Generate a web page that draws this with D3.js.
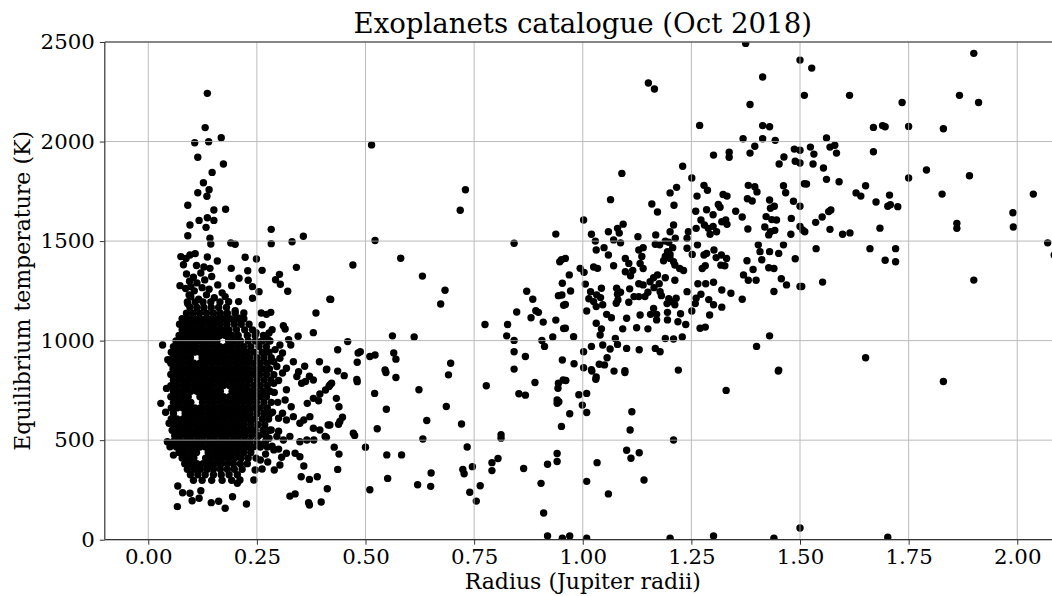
<!DOCTYPE html>
<html>
<head>
<meta charset="utf-8">
<script src="https://cdn.jsdelivr.net/npm/d3@7"></script>
<style>
  body { margin: 0; background: #fff; }
  svg text { font-family: "DejaVu Serif", serif; fill: #000; }
</style>
</head>
<body>
<svg id="chart" width="1052" height="596"></svg>
<script>
// Axis ticks
const xTicks = [0, 0.25, 0.5, 0.75, 1.0, 1.25, 1.5, 1.75, 2.0];
const yTicks = [0, 500, 1000, 1500, 2000, 2500];

// Dense small-planet cluster, listed as rows: [temperature, [radii...]]
const coreRows = [
  [1194, [0.090, 0.108, 0.126, 0.144, 0.165]],
  [1166, [0.096, 0.112, 0.128, 0.145, 0.162, 0.180]],
  [1138, [0.088, 0.103, 0.118, 0.134, 0.150, 0.166, 0.182, 0.200]],
  [1110, [0.078, 0.092, 0.106, 0.119, 0.133, 0.146, 0.160, 0.174, 0.188, 0.203, 0.220]],
  [1082, [0.072, 0.085, 0.098, 0.112, 0.125, 0.139, 0.152, 0.166, 0.181, 0.198, 0.214, 0.232]],
  [1054, [0.078, 0.091, 0.105, 0.118, 0.131, 0.145, 0.158, 0.172, 0.186, 0.203, 0.222, 0.240]],
  [1026, [0.071, 0.084, 0.098, 0.111, 0.124, 0.138, 0.151, 0.165, 0.178, 0.192, 0.207, 0.228, 0.246, 0.265]],
  [998, [0.064, 0.077, 0.091, 0.104, 0.117, 0.131, 0.144, 0.158, 0.185, 0.198, 0.212, 0.230, 0.247, 0.262, 0.280]],
  [970, [0.058, 0.071, 0.085, 0.098, 0.111, 0.125, 0.138, 0.152, 0.165, 0.179, 0.192, 0.206, 0.220, 0.236, 0.255, 0.272]],
  [942, [0.053, 0.066, 0.079, 0.093, 0.106, 0.119, 0.133, 0.146, 0.160, 0.173, 0.187, 0.200, 0.214, 0.228, 0.243, 0.262, 0.278]],
  [914, [0.057, 0.070, 0.084, 0.097, 0.124, 0.138, 0.151, 0.165, 0.178, 0.192, 0.205, 0.219, 0.233, 0.250, 0.266, 0.283]],
  [886, [0.052, 0.065, 0.078, 0.092, 0.105, 0.119, 0.132, 0.146, 0.159, 0.173, 0.186, 0.200, 0.213, 0.227, 0.242, 0.258, 0.274]],
  [858, [0.057, 0.070, 0.084, 0.097, 0.111, 0.124, 0.138, 0.151, 0.165, 0.178, 0.192, 0.205, 0.219, 0.233, 0.249, 0.264, 0.279]],
  [830, [0.052, 0.065, 0.078, 0.092, 0.105, 0.119, 0.132, 0.146, 0.159, 0.173, 0.186, 0.200, 0.213, 0.227, 0.241, 0.256, 0.272]],
  [802, [0.058, 0.071, 0.085, 0.098, 0.112, 0.125, 0.139, 0.152, 0.166, 0.179, 0.193, 0.206, 0.220, 0.234, 0.250, 0.266, 0.282]],
  [774, [0.052, 0.065, 0.079, 0.092, 0.106, 0.119, 0.133, 0.146, 0.160, 0.173, 0.187, 0.200, 0.214, 0.228, 0.243, 0.258, 0.274]],
  [746, [0.058, 0.071, 0.085, 0.098, 0.112, 0.125, 0.139, 0.152, 0.166, 0.193, 0.206, 0.220, 0.234, 0.249, 0.265, 0.280]],
  [718, [0.052, 0.065, 0.079, 0.092, 0.119, 0.133, 0.146, 0.160, 0.173, 0.187, 0.200, 0.214, 0.228, 0.242, 0.257, 0.272]],
  [690, [0.058, 0.071, 0.085, 0.098, 0.125, 0.139, 0.152, 0.166, 0.179, 0.193, 0.206, 0.220, 0.234, 0.249, 0.266, 0.283]],
  [662, [0.053, 0.066, 0.080, 0.093, 0.107, 0.120, 0.134, 0.147, 0.161, 0.174, 0.188, 0.201, 0.215, 0.229, 0.244, 0.258, 0.274]],
  [634, [0.058, 0.085, 0.098, 0.112, 0.125, 0.139, 0.152, 0.166, 0.179, 0.193, 0.206, 0.220, 0.234, 0.250, 0.266, 0.281]],
  [606, [0.053, 0.066, 0.080, 0.093, 0.107, 0.120, 0.134, 0.147, 0.161, 0.174, 0.188, 0.201, 0.215, 0.229, 0.244, 0.262, 0.277]],
  [578, [0.059, 0.072, 0.086, 0.099, 0.113, 0.126, 0.140, 0.153, 0.167, 0.180, 0.194, 0.207, 0.221, 0.236, 0.252, 0.268]],
  [550, [0.055, 0.068, 0.082, 0.095, 0.109, 0.122, 0.136, 0.149, 0.163, 0.176, 0.190, 0.203, 0.217, 0.231, 0.246, 0.264, 0.279]],
  [522, [0.061, 0.074, 0.088, 0.101, 0.115, 0.128, 0.142, 0.155, 0.169, 0.182, 0.196, 0.209, 0.223, 0.238, 0.254, 0.270]],
  [494, [0.058, 0.071, 0.085, 0.098, 0.112, 0.125, 0.139, 0.152, 0.166, 0.179, 0.193, 0.206, 0.220, 0.234, 0.250, 0.270]],
  [466, [0.065, 0.078, 0.092, 0.105, 0.119, 0.132, 0.146, 0.159, 0.173, 0.186, 0.200, 0.213, 0.227, 0.242, 0.258, 0.274]],
  [438, [0.071, 0.084, 0.098, 0.111, 0.138, 0.152, 0.165, 0.179, 0.192, 0.206, 0.220, 0.236]],
  [410, [0.078, 0.091, 0.105, 0.132, 0.145, 0.159, 0.172, 0.186, 0.199, 0.214, 0.230, 0.248]],
  [382, [0.084, 0.098, 0.112, 0.126, 0.140, 0.154, 0.168, 0.182, 0.196, 0.212, 0.228]],
  [354, [0.090, 0.105, 0.120, 0.136, 0.150, 0.166, 0.182, 0.198, 0.216]],
  [326, [0.097, 0.114, 0.131, 0.150, 0.168, 0.186, 0.205]],
  [298, [0.104, 0.124, 0.146, 0.170, 0.192]]
];

// Scattered small planets: [radius (R_J), equilibrium temperature (K)]
const smallPlanets = [
  [0.136,2242],[0.131,2070],[0.107,1994],[0.139,1999],[0.168,2019],[0.114,1921],[0.173,1887],[0.147,1845],
  [0.127,1793],[0.140,1758],[0.114,1743],[0.135,1725],[0.091,1680],[0.151,1656],[0.178,1660],
  [0.117,1604],[0.136,1617],[0.151,1604],[0.096,1581],[0.133,1569],[0.091,1527],[0.142,1514],[0.144,1485],
  [0.190,1490],[0.200,1484],[0.283,1559],[0.283,1487],[0.331,1497],[0.357,1524],[0.075,1422],[0.087,1413],
  [0.108,1437],[0.096,1430],[0.136,1420],[0.159,1400],[0.223,1419],[0.249,1410],[0.191,1363],[0.262,1353],
  [0.341,1368],[0.229,1351],[0.302,1333],[0.293,1306],[0.304,1283],[0.321,1248],[0.209,1313],[0.230,1303],
  [0.240,1271],[0.073,1276],[0.098,1271],[0.192,1276],[0.255,1246],[0.240,1213],[0.418,1208],[0.208,1196],
  [0.094,1229],[0.091,1185],[0.177,1221],[0.260,1139],[0.282,1142],[0.272,1132],[0.386,1139],[0.380,1040],
  [0.220,1139],[0.211,1112],[0.345,1022],[0.311,1075],[0.315,1058],[0.285,1055],[0.278,1038],[0.323,1005],
  [0.328,978],[0.303,978],[0.309,938],[0.303,911],[0.394,894],[0.360,871],[0.371,821],[0.410,854],
  [0.346,844],[0.318,861],[0.289,894],[0.272,944],[0.334,894],[0.033,978],[0.045,904],
  [0.081,1381],[0.111,1377],[0.128,1370],[0.142,1363],
  [0.088,1335],[0.104,1318],[0.121,1340],[0.095,1298],[0.112,1290],[0.130,1305],[0.146,1322],[0.086,1262],
  [0.106,1250],[0.124,1266],[0.140,1258],[0.160,1280],[0.098,1220],[0.116,1208],[0.134,1230],[0.152,1215],
  [0.170,1240],[0.185,1195],[0.200,1150],
  [0.262,1080],[0.248,1040],[0.275,1005],[0.292,955],[0.296,870],[0.300,800],[0.290,740],[0.298,690],
  [0.286,640],[0.300,610],[0.300,545],[0.278,510],[0.264,480],[0.285,470],[0.270,430],[0.300,455],
  [0.258,400],[0.275,390],[0.262,355],[0.290,350],
  [0.471,1380],[0.420,1207],[0.459,995],[0.436,954],[0.483,938],[0.488,944],[0.481,891],[0.411,857],
  [0.436,847],[0.451,824],[0.480,805],[0.422,786],[0.416,770],[0.481,794],[0.433,710],[0.439,668],
  [0.447,615],[0.441,594],[0.438,580],[0.414,576],[0.410,514],[0.472,535],[0.475,524],[0.428,465],
  [0.439,430],[0.436,353],[0.412,256],
  [0.029,685],[0.068,270],[0.079,236],[0.096,233],[0.101,196],[0.121,246],[0.117,208],[0.067,166],
  [0.145,186],[0.162,193],[0.177,158],[0.194,216],[0.226,179],[0.205,283],[0.211,300],[0.243,300],
  [0.246,350],[0.326,219],[0.338,230],[0.352,316],[0.371,303],[0.389,316],[0.369,186],[0.371,174],
  [0.398,189],[0.303,375],[0.307,414],[0.338,434],[0.349,417],[0.358,370],
  [0.289,829],[0.309,837],[0.342,820],[0.353,786],[0.362,795],[0.380,802],[0.418,777],[0.318,753],
  [0.289,786],[0.315,702],[0.329,668],[0.366,685],[0.380,710],[0.392,698],[0.395,732],[0.408,752],
  [0.309,635],[0.318,601],[0.334,618],[0.349,585],[0.358,601],[0.372,618],[0.380,560],[0.395,551],
  [0.407,519],[0.418,576],[0.283,551],[0.296,519],[0.311,501],[0.326,519],[0.349,492],[0.365,501],
  [0.381,501],[0.289,451],[0.318,434],[0.048,585],[0.044,492],[0.050,467],[0.058,425],[0.042,760],[0.040,640]
];

// Gas giants and larger planets: [radius (R_J), equilibrium temperature (K)]
const giantPlanets = [
  [0.514,1983],[0.730,1758],[0.718,1655],[0.522,1503],[0.581,1414],[0.631,1324],[0.683,1253],[0.673,1184],
  [0.775,1081],[0.842,1489],[0.938,1535],[0.951,1406],[0.953,1288],[0.944,1226],[0.956,1178],[0.871,1248],
  [0.885,1208],[0.848,1144],[0.892,1150],[0.898,1142],[0.881,1115],[0.909,1093],[0.938,1103],[0.956,1061],
  [0.827,1081],[0.825,1024],[0.842,1001],[0.906,1001],[0.912,971],[0.931,1018],[0.842,944],[0.868,920],
  [0.842,857],[0.953,903],[0.562,1024],[0.612,1018],[0.510,920],[0.522,928],[0.565,938],[0.570,907],
  [0.545,853],[0.547,840],[0.696,886],[0.691,828],[0.570,815],
  [0.623,753],[0.521,735],[0.778,773],[0.890,790],[0.853,733],[0.868,726],[0.944,786],[0.943,761],
  [0.941,702],[0.941,685],[0.951,569],[0.955,802],[0.548,655],[0.527,557],[0.686,669],[0.641,599],
  [0.632,506],[0.721,581],[0.812,527],[0.812,510],[0.500,465],[0.549,426],[0.583,426],[0.510,251],
  [0.551,308],[0.620,276],[0.651,335],[0.650,268],[0.734,466],[0.724,353],[0.727,331],[0.746,367],
  [0.740,238],[0.764,271],[0.755,194],[0.791,387],[0.805,408],[0.791,347],[0.864,358],[0.904,283],
  [0.919,379],[0.941,433],[0.941,393],[0.910,134],[0.919,19],[0.953,7],
  [0.961,800],[0.991,728],[1.009,735],[0.999,676],[1.009,639],[0.970,633],[0.945,693],[1.030,806],
  [1.021,847],[1.072,847],[1.097,840],[1.220,852],[1.450,847],[1.330,750],[1.113,643],[1.109,551],
  [1.209,501],[1.101,449],[1.111,409],[1.130,437],[1.033,387],[1.009,293],[1.141,300],[1.059,230],
  [0.970,19],[1.009,7],[1.201,7],[1.301,19],[1.440,7],[1.500,59],[1.830,795],[1.702,12],
  [1.151,2294],[1.165,2264],[1.375,2493],[1.500,2409],[1.414,2324],[1.385,2186],[1.510,2232],[1.269,2081],
  [1.414,2080],[1.430,2074],[1.369,2014],[1.414,2014],[1.443,2006],[1.396,1976],[1.385,1942],[1.487,1962],
  [1.500,1956],[1.463,1922],[1.452,1887],[1.489,1901],[1.500,1892],[1.510,1788],[1.301,1932],[1.337,1946],
  [1.337,1921],[1.230,1876],[1.251,1817],[1.279,1780],[1.287,1755],[1.263,1726],[1.323,1734],[1.332,1726],
  [1.381,1780],[1.396,1773],[1.401,1747],[1.379,1713],[1.390,1701],[1.430,1706],[1.441,1675],[1.462,1778],
  [1.467,1743],[1.485,1700],[1.500,1675],[1.090,1840],[1.064,1708],[1.216,1770],[1.201,1742],[1.159,1686],
  [1.172,1646],[1.210,1680],[1.260,1650],[1.285,1657],[1.312,1684],[1.316,1670],[1.352,1650],
  [1.300,1632],[1.367,1621],[1.332,1584],[1.272,1606],[1.280,1581],[1.289,1564],[1.300,1574],[1.308,1547],
  [1.293,1534],[1.320,1597],[1.329,1606],[1.261,1564],[1.243,1547],[1.240,1514],[1.432,1665],[1.422,1623],
  [1.435,1608],[1.446,1606],[1.480,1614],[1.419,1571],[1.432,1547],[1.442,1554],[1.428,1531],[1.380,1561],
  [1.479,1534],[1.500,1573],[1.506,1556],[1.209,1581],[1.201,1547],[1.213,1514],[1.168,1531],[1.167,1484],
  [1.177,1481],[1.190,1500],[1.198,1494],[1.207,1467],[1.201,1433],[1.127,1522],[1.093,1585],[1.080,1564],
  [1.084,1540],[1.059,1547],[1.071,1506],[1.087,1491],[1.020,1534],[1.029,1500],[1.049,1467],[1.031,1455],
  [1.059,1430],[1.002,1606],[1.139,1467],[1.129,1455],[1.240,1464],[1.252,1433],[1.264,1481],[1.285,1438],
  [1.302,1455],[1.307,1417],[1.319,1430],[1.331,1413],[1.327,1376],[1.318,1379],[1.378,1401],[1.392,1357],
  [1.370,1330],[1.381,1303],[1.399,1303],[1.404,1481],[1.408,1447],[1.430,1447],[1.412,1406],[1.451,1438],
  [1.462,1481],[1.428,1366],[1.440,1362],[1.489,1411],[1.457,1311],[1.469,1280],[1.440,1247],[1.500,1272],
  [1.367,1208],[1.430,1024],[1.400,971],[1.451,852],[1.279,1430],[1.275,1362],[1.282,1376],[1.265,1286],
  [1.283,1286],[1.301,1293],[1.320,1254],[1.341,1238],[1.290,1206],[1.301,1180],[1.320,1168],[1.272,1233],
  [1.261,1213],[1.259,1186],[1.251,1149],[1.292,1129],[1.270,1062],[1.282,1068],[1.240,1246],[1.223,1362],
  [1.232,1352],[1.212,1380],[1.209,1396],[1.201,1413],[1.190,1423],[1.195,1447],[1.186,1401],[1.212,1303],
  [1.190,1316],[1.172,1330],[1.163,1316],[1.178,1246],[1.181,1226],[1.198,1210],[1.194,1186],[1.212,1180],
  [1.203,1196],[1.215,1213],[1.163,1162],[1.170,1132],[1.156,1132],[1.195,1142],[1.195,1104],[1.225,1135],
  [1.219,1095],[1.237,1081],[1.190,1011],[1.209,1008],[1.229,1018],[1.098,1413],[1.106,1388],[1.098,1346],
  [1.110,1326],[1.115,1353],[1.136,1423],[1.132,1388],[1.139,1362],[1.129,1286],[1.139,1280],[1.155,1296],
  [1.164,1266],[1.176,1286],[1.118,1221],[1.129,1221],[1.143,1221],[1.150,1243],[1.106,1193],[1.132,1129],
  [1.087,1243],[1.080,1233],[1.081,1204],[1.077,1188],[1.108,1260],[1.101,1112],[1.092,1059],[1.124,1065],
  [1.150,1059],[1.075,1011],[1.080,981],[1.063,958],[1.101,961],[1.130,954],[1.167,961],[1.178,944],
  [1.056,914],[1.038,881],[1.050,878],[1.097,849],[1.046,978],[1.020,971],[1.002,944],[1.002,864],
  [0.980,884],[1.020,854],[1.031,817],[0.979,1020],[0.960,1062],[1.055,1132],[1.066,1115],[1.031,1087],
  [1.043,1059],[1.040,1028],[1.009,1149],[1.031,1171],[1.046,1180],[1.025,1196],[1.014,1210],[1.032,1230],
  [1.018,1246],[1.043,1263],[1.041,1216],[0.960,1182],[0.972,1249],[0.952,1229],[1.006,1284],[0.969,1330],
  [0.994,1363],[1.003,1343],[0.947,1396],[0.960,1413],[1.025,1370],[1.034,1363],[1.071,1376],[1.078,1263],
  [1.170,1104],
  [1.900,2443],[1.527,2369],[1.614,2232],[1.867,2232],[1.911,2196],[1.735,2196],[1.669,2071],[1.690,2080],
  [1.696,2074],[1.750,2076],[1.830,2064],[1.561,2018],[1.524,1972],[1.569,1972],[1.580,1981],[1.532,1937],
  [1.584,1942],[1.669,1949],[1.530,1887],[1.554,1867],[1.515,1787],[1.561,1810],[1.590,1798],[1.651,1778],
  [1.629,1742],[1.640,1726],[1.706,1731],[1.750,1817],[1.791,1857],[1.890,1828],[1.827,1736],[2.037,1736],
  [1.675,1696],[1.571,1656],[1.702,1675],[1.708,1683],[1.725,1673],[1.990,1642],[1.566,1648],[1.551,1621],
  [1.536,1594],[1.511,1547],[1.569,1559],[1.598,1534],[1.615,1541],[1.684,1565],[1.861,1589],[1.861,1564],
  [1.991,1571],[2.070,1491],[2.085,1430],[1.537,1462],[1.661,1462],[1.720,1462],[1.696,1404],[1.720,1396],
  [1.504,1272],[1.552,1294],[1.900,1304],[1.651,914]
];

const points = [];
coreRows.forEach(([t, radii]) => radii.forEach(r => points.push([r, t])));
smallPlanets.forEach(p => points.push(p));
giantPlanets.forEach(p => points.push(p));

const svg = d3.select("#chart");
const plot = { left: 104.8, right: 1060.7, top: 42, bottom: 539.7 };

const x = d3.scaleLinear().domain([-0.1, 2.1]).range([plot.left, plot.right]);
const y = d3.scaleLinear().domain([0, 2500]).range([plot.bottom, plot.top]);

svg.append("defs").append("clipPath").attr("id", "plot-clip")
  .append("rect")
  .attr("x", plot.left).attr("y", plot.top)
  .attr("width", plot.right - plot.left).attr("height", plot.bottom - plot.top);

// Scatter markers
svg.append("g").attr("clip-path", "url(#plot-clip)")
  .selectAll("circle").data(points).join("circle")
  .attr("cx", d => x(d[0]))
  .attr("cy", d => y(d[1]))
  .attr("r", 3.7)
  .attr("fill", "#000");

// Grid lines drawn above the markers
const grid = svg.append("g").attr("stroke", "#b0b0b0").attr("stroke-width", 1).attr("opacity", 0.85);
grid.selectAll(".gx").data(xTicks).join("line")
  .attr("x1", d => x(d)).attr("x2", d => x(d))
  .attr("y1", plot.top).attr("y2", plot.bottom);
grid.selectAll(".gy").data(yTicks).join("line")
  .attr("x1", plot.left).attr("x2", plot.right)
  .attr("y1", d => y(d)).attr("y2", d => y(d));

// Axes
const xAxis = d3.axisBottom(x).tickValues(xTicks).tickFormat(d3.format(".2f")).tickSizeOuter(0).tickSize(5).tickPadding(4);
const yAxis = d3.axisLeft(y).tickValues(yTicks).tickFormat(d3.format("d")).tickSizeOuter(0).tickSize(5).tickPadding(5);

const gx = svg.append("g").attr("transform", `translate(0,${plot.bottom})`).call(xAxis);
const gy = svg.append("g").attr("transform", `translate(${plot.left},0)`).call(yAxis);
[gx, gy].forEach(g => {
  g.select(".domain").remove();
  g.selectAll(".tick line").attr("stroke", "#333").attr("stroke-width", 1);
  g.selectAll(".tick text").attr("font-family", "DejaVu Serif").attr("font-size", 21.3).attr("fill", "#000");
});

// Frame (spines)
const spine = svg.append("g").attr("stroke", "#333").attr("stroke-width", 1.2).attr("fill", "none");
spine.append("line").attr("x1", plot.left).attr("x2", plot.right).attr("y1", plot.top).attr("y2", plot.top);
spine.append("line").attr("x1", plot.left).attr("x2", plot.right).attr("y1", plot.bottom).attr("y2", plot.bottom);
spine.append("line").attr("x1", plot.left).attr("x2", plot.left).attr("y1", plot.top).attr("y2", plot.bottom);
spine.append("line").attr("x1", plot.right).attr("x2", plot.right).attr("y1", plot.top).attr("y2", plot.bottom);

// Titles
const cx = (plot.left + plot.right) / 2;
svg.append("text").attr("x", cx).attr("y", 33).attr("text-anchor", "middle")
  .attr("font-size", 27.6).text("Exoplanets catalogue (Oct 2018)");
svg.append("text").attr("x", cx).attr("y", 589).attr("text-anchor", "middle")
  .attr("font-size", 22).text("Radius (Jupiter radii)");
svg.append("text").attr("transform", `translate(30,${(plot.top + plot.bottom) / 2}) rotate(-90)`)
  .attr("text-anchor", "middle").attr("font-size", 22).text("Equilibrium temperature (K)");
</script>
</body>
</html>
